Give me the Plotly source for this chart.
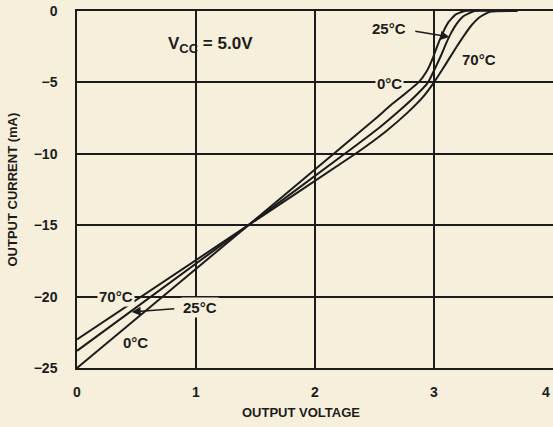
import plotly.graph_objects as go

# Output voltage (V) / output current (mA)
v_0c = [0, 1.44, 2.2, 2.5, 2.65, 2.77, 2.87, 2.94, 2.99, 3.03, 3.07, 3.12, 3.18, 3.26, 3.7]
i_0c = [-25, -15, -9.7, -7.6, -6.5, -5.7, -5.0, -4.2, -3.3, -2.4, -1.6, -0.8, -0.25, 0, 0]

v_25c = [0, 1.44, 2.25, 2.55, 2.72, 2.85, 2.95, 3.01, 3.06, 3.1, 3.14, 3.19, 3.25, 3.34, 3.7]
i_25c = [-23.8, -15, -10, -8.1, -6.9, -5.9, -5.0, -4.0, -3.1, -2.3, -1.6, -0.9, -0.35, 0, 0]

v_70c = [0, 1.44, 2.34, 2.6, 2.78, 2.91, 3.0, 3.07, 3.13, 3.19, 3.25, 3.31, 3.38, 3.47, 3.7]
i_70c = [-23, -15, -10, -8.4, -7.1, -6.0, -5.0, -4.1, -3.3, -2.5, -1.75, -1.05, -0.45, -0.05, 0]

x_ticks = [0, 1, 2, 3, 4]
x_tick_labels = ["0", "1", "2", "3", ""]
last_x_label = "4"
y_ticks = [0, -5, -10, -15, -20, -25]
y_tick_labels = ["0", "\u22125", "\u221210", "\u221215", "\u221220", "\u221225"]

BG = "#f6efdb"
INK = "#1c1c1c"
FONT = "Liberation Sans"

fig = go.Figure()
for v, i in [(v_0c, i_0c), (v_25c, i_25c), (v_70c, i_70c)]:
    fig.add_trace(go.Scatter(x=v, y=i, mode="lines",
                             line=dict(color=INK, width=2, shape="spline", smoothing=0.4),
                             showlegend=False, hoverinfo="skip"))

fig.update_layout(
    width=553, height=427,
    margin=dict(l=77, r=0, t=11, b=59),
    paper_bgcolor=BG, plot_bgcolor=BG,
    font=dict(family=FONT, color=INK),
    xaxis=dict(range=[0, 4], tickvals=x_ticks, ticktext=x_tick_labels, showgrid=True,
               gridcolor=INK, gridwidth=1.5,
               showline=True, linecolor=INK, linewidth=1.5, mirror=True, zeroline=False,
               tickfont=dict(size=14, weight="bold"), ticks="", ticklabelstandoff=10,
               automargin=False, ticklabeloverflow="allow"),
    yaxis=dict(range=[-25, 0], tickvals=y_ticks, ticktext=y_tick_labels, showgrid=True,
               gridcolor=INK, gridwidth=1.5, showline=True, linecolor=INK, linewidth=1.5,
               mirror=True, zeroline=False, tickfont=dict(size=14, weight="bold"), ticks="",
               ticklabelstandoff=15, automargin=False, ticklabeloverflow="allow"),
)

ann_font = dict(family=FONT, size=15, color=INK, weight="bold")
title_font = dict(family=FONT, size=13, color=INK, weight="bold")
# last x tick label, kept inside the page
fig.add_annotation(text=last_x_label, xref="paper", yref="paper", x=1, y=0, xanchor="right",
                   yanchor="middle", yshift=-24, xshift=-1, showarrow=False,
                   font=dict(family=FONT, size=14, color=INK, weight="bold"))
# axis titles
fig.add_annotation(text="OUTPUT VOLTAGE", xref="paper", yref="paper", x=0.47, y=0,
                   yanchor="middle", xanchor="center",
                   yshift=-44, showarrow=False, font=title_font)
fig.add_annotation(text="OUTPUT CURRENT (mA)", xref="paper", yref="paper", x=0, y=0.5,
                   xanchor="center", yanchor="middle",
                   xshift=-65, textangle=-90, showarrow=False, font=title_font)

# Vcc label
fig.add_annotation(text="V<sub><span style='font-size:13px'>CC</span></sub> = 5.0V",
                   x=1.12, y=-2.4, showarrow=False,
                   font=dict(family=FONT, size=17, color=INK, weight="bold"))

# upper labels
fig.add_annotation(text="25°C", x=2.62, y=-1.2, showarrow=False, font=ann_font)
fig.add_annotation(x=3.13, y=-1.82, ax=2.83, ay=-1.4, axref="x", ayref="y", text="",
                   showarrow=True, arrowhead=2, arrowsize=1.2, arrowwidth=1.5, arrowcolor=INK)
fig.add_annotation(text="70°C", x=3.38, y=-3.43, showarrow=False, font=ann_font)
fig.add_annotation(text="0°C", x=2.63, y=-5.1, showarrow=False, font=ann_font, bgcolor=BG)

# lower labels
fig.add_annotation(text="70°C", x=0.33, y=-20.0, showarrow=False, font=ann_font, bgcolor=BG)
fig.add_annotation(text="25°C", x=1.03, y=-20.75, showarrow=False, font=ann_font, bgcolor=BG)
fig.add_annotation(x=0.46, y=-21.08, ax=0.83, ay=-20.85, axref="x", ayref="y", text="",
                   showarrow=True, arrowhead=2, arrowsize=1.2, arrowwidth=1.5, arrowcolor=INK)
fig.add_annotation(text="0°C", x=0.49, y=-23.2, showarrow=False, font=ann_font)

# remove the page's default 8px body margin so the figure fills the window exactly
fig.write_html("out.html", config={"displayModeBar": False},
               post_script="document.body.style.margin='0';document.body.style.overflow='hidden';")
